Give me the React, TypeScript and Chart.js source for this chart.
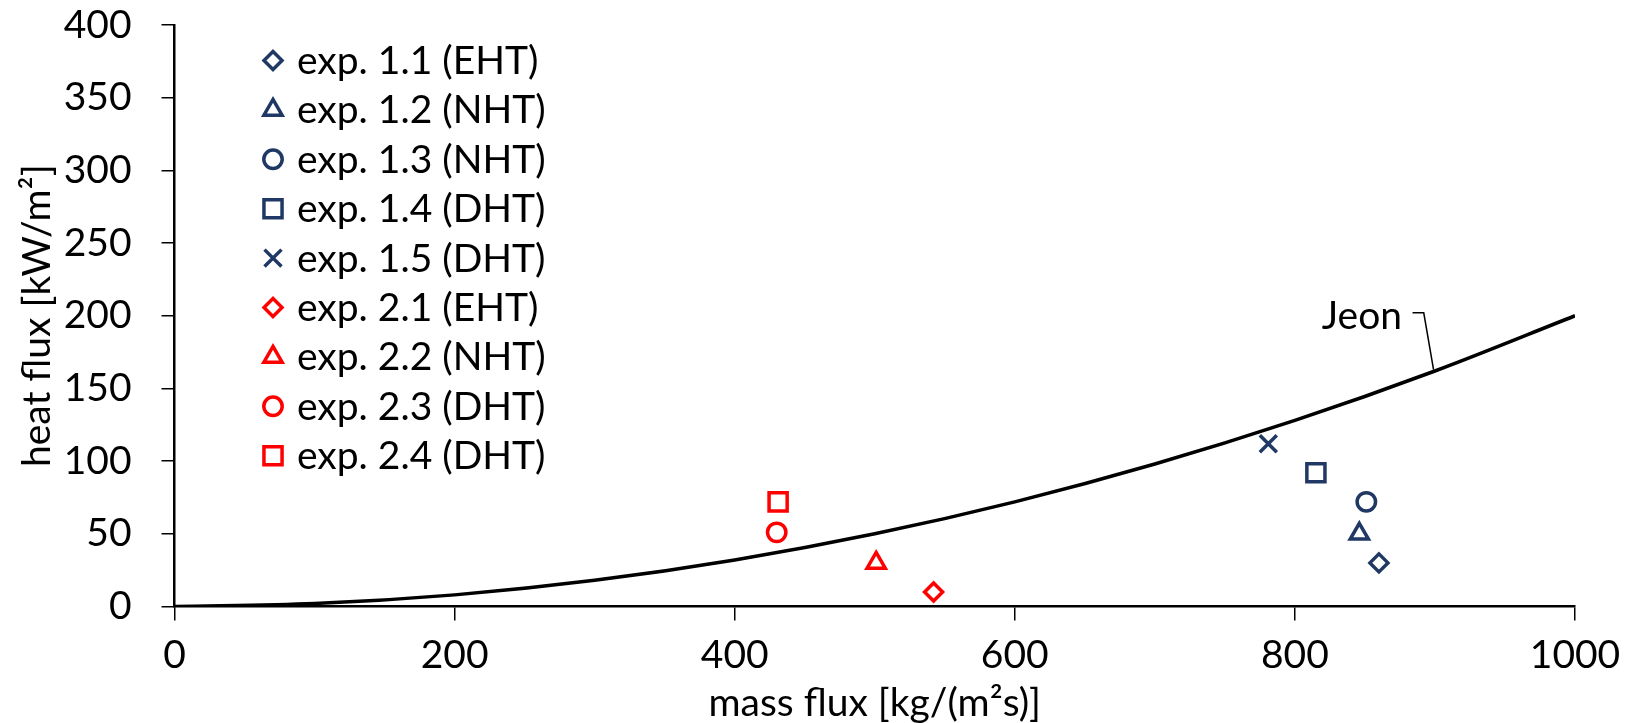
import React, { useEffect, useRef } from 'react';
import { Chart, registerables } from 'chart.js';
import { drawPoint } from 'chart.js/helpers';

Chart.register(...registerables);

// Jeon correlation curve
const jeonX = [0, 100, 200, 300, 400, 500, 600, 700, 800, 900, 1000];
const jeonY = [0, 2, 8, 18, 32, 50, 72, 98, 128, 162, 200];

// experiments
const expNames = [
  'exp. 1.1 (EHT)',
  'exp. 1.2 (NHT)',
  'exp. 1.3 (NHT)',
  'exp. 1.4 (DHT)',
  'exp. 1.5 (DHT)',
  'exp. 2.1 (EHT)',
  'exp. 2.2 (NHT)',
  'exp. 2.3 (DHT)',
  'exp. 2.4 (DHT)',
];
const expX = [860, 846, 851, 815, 781, 542, 501, 430, 431];
const expY = [30, 50, 72, 92, 112, 10, 30, 51, 72];

// styles
const NAVY = '#203864';
const RED = '#FF0000';
const expColors = [NAVY, NAVY, NAVY, NAVY, NAVY, RED, RED, RED, RED];
const expShapes = ['rectRot', 'triangle', 'circle', 'rect', 'crossRot', 'rectRot', 'triangle', 'circle', 'rect'];
const shapeRadius: Record<string, number> = { rectRot: 9, triangle: 10.5, circle: 9.2, rect: 12.8, crossRot: 12 };

const xTicks = [0, 200, 400, 600, 800, 1000];
const yTicks = [0, 50, 100, 150, 200, 250, 300, 350, 400];

const FONT = 'Lato';
const FS = 39;

const legendPlugin = {
  id: 'insideLegend',
  afterDraw(chart: any) {
    const ctx = chart.ctx;
    ctx.save();
    const markerX = 273;
    const textX = 297;
    const top = 60.5;
    const step = 49.4;
    chart.data.datasets.forEach((ds: any, i: number) => {
      if (ds.isCurve) return;
      const idx = i - 1;
      const y = top + step * idx;
      ctx.strokeStyle = ds.borderColor;
      ctx.fillStyle = 'rgba(0,0,0,0)';
      ctx.lineWidth = ds.pointBorderWidth;
      drawPoint(ctx, { pointStyle: ds.pointStyle, radius: ds.pointRadius, borderWidth: ds.pointBorderWidth, rotation: 0 }, markerX, y);
      ctx.fillStyle = '#000';
      ctx.font = `${FS}px ${FONT}`;
      ctx.textAlign = 'left';
      ctx.textBaseline = 'middle';
      ctx.fillText(ds.label, textX, y + 1);
    });
    ctx.restore();
  },
};

const jeonLabelPlugin = {
  id: 'jeonLabel',
  afterDatasetsDraw(chart: any) {
    const ctx = chart.ctx;
    const xs = chart.scales.x;
    const ys = chart.scales.y;
    ctx.save();
    const bx = xs.getPixelForValue(899);
    const by = ys.getPixelForValue(163);
    const cx = xs.getPixelForValue(892);
    const cy = ys.getPixelForValue(202);
    const lx = xs.getPixelForValue(884);
    ctx.strokeStyle = '#000';
    ctx.lineWidth = 1.5;
    ctx.beginPath();
    ctx.moveTo(bx, by);
    ctx.lineTo(cx, cy);
    ctx.lineTo(lx, cy);
    ctx.stroke();
    ctx.fillStyle = '#000';
    ctx.font = `${FS}px ${FONT}`;
    ctx.textAlign = 'right';
    ctx.textBaseline = 'middle';
    ctx.fillText('Jeon', xs.getPixelForValue(876.5), cy + 4);
    ctx.restore();
  },
};

export default function App() {
  const ref = useRef<HTMLCanvasElement | null>(null);

  useEffect(() => {
    document.body.style.margin = '0';
    if (!ref.current) return;
    Chart.defaults.font.family = FONT;
    Chart.defaults.color = '#000';

    const datasets: any[] = [
      {
        label: 'Jeon',
        isCurve: true,
        type: 'line',
        data: jeonX.map((x, i) => ({ x, y: jeonY[i] })),
        borderColor: '#000',
        borderWidth: 3.5,
        pointRadius: 0,
        showLine: true,
        cubicInterpolationMode: 'monotone',
        fill: false,
        order: 2,
      },
      ...expNames.map((name, i) => ({
        label: name,
        type: 'scatter',
        data: [{ x: expX[i], y: expY[i] }],
        borderColor: expColors[i],
        backgroundColor: 'rgba(0,0,0,0)',
        pointStyle: expShapes[i],
        pointRadius: shapeRadius[expShapes[i]],
        pointBorderWidth: 3.5,
        borderWidth: 3.5,
        order: 1,
      })),
    ];

    const chart = new Chart(ref.current, {
      type: 'scatter',
      data: { datasets },
      options: {
        animation: false,
        responsive: false,
        maintainAspectRatio: false,
        layout: { padding: { top: 25, right: 55, left: 0, bottom: 0 } },
        plugins: {
          legend: { display: false },
          tooltip: { enabled: false },
        },
        scales: {
          x: {
            type: 'linear',
            min: 0,
            max: 1000,
            afterFit: (s: any) => { s.height = 116.5; s.paddingLeft = 0; s.paddingRight = 0; },
            afterBuildTicks: (s: any) => { s.ticks = xTicks.map((v) => ({ value: v })); },
            ticks: { font: { size: FS, family: FONT }, color: '#000', padding: 12, maxRotation: 0, callback: (v: any) => String(v) },
            grid: { drawOnChartArea: false, drawTicks: true, tickLength: 14, color: '#000', lineWidth: 1.5 },
            border: { color: '#000', width: 2.5 },
            title: { display: true, text: 'mass flux [kg/(m²s)]', font: { size: FS, family: FONT }, color: '#000', padding: { top: -4, bottom: -4 } },
          },
          y: {
            type: 'linear',
            min: 0,
            max: 400,
            afterFit: (s: any) => { s.width = 174.5; s.paddingTop = 0; s.paddingBottom = 0; },
            afterBuildTicks: (s: any) => { s.ticks = yTicks.map((v) => ({ value: v })); },
            ticks: { font: { size: FS, family: FONT }, color: '#000', padding: 30, callback: (v: any) => String(v) },
            grid: { drawOnChartArea: false, drawTicks: true, tickLength: 13, color: '#000', lineWidth: 1.5 },
            border: { color: '#000', width: 2.5 },
            title: { display: true, text: 'heat flux [kW/m²]', font: { size: FS, family: FONT }, color: '#000', padding: { top: 14, bottom: 0 } },
          },
        },
      } as any,
      plugins: [legendPlugin, jeonLabelPlugin],
    });
    return () => chart.destroy();
  }, []);

  return (
    <div style={{ width: 1630, height: 723 }}>
      <canvas ref={ref} width={1630} height={723} />
    </div>
  );
}
